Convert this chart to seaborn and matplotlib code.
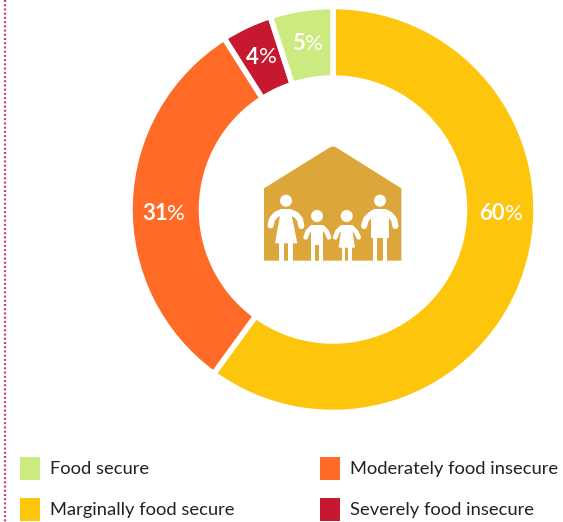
import matplotlib
matplotlib.use("Agg")
import matplotlib.pyplot as plt
from matplotlib.patches import Circle, Polygon, Rectangle
import seaborn as sns

categories = ["Marginally food secure", "Moderately food insecure",
              "Severely food insecure", "Food secure"]
shares = [60, 31, 4, 5]
share_colors = ["#FDC50C", "#FF6B27", "#C6192F", "#CBEB80"]
legend_order = ["Food secure", "Marginally food secure",
                "Moderately food insecure", "Severely food insecure"]

HOUSE = "#DDA63A"
WHITE = "#FFFFFF"

sns.set_theme(style="white")
plt.rcParams["font.family"] = ["Lato", "DejaVu Sans"]

W, H = 563, 522
fig = plt.figure(figsize=(W / 100, H / 100), dpi=100, facecolor="white")

# Ring, placed on the canvas in pixel terms
cx, cy, outer, inner = 333, 209.5, 203, 131.5
ring = fig.add_axes([(cx - outer) / W, (H - cy - outer) / H, 2 * outer / W, 2 * outer / H])
ring.pie(shares, colors=share_colors, startangle=90, counterclock=False, radius=1,
         wedgeprops=dict(width=(outer - inner) / outer, edgecolor="white", linewidth=4.0))
ring.set_xlim(-1, 1)
ring.set_ylim(-1, 1)
ring.axis("off")

# Overlay in pixel coordinates for annotations, icon and key
ax = fig.add_axes([0, 0, 1, 1], facecolor="none")
ax.set_xlim(0, W)
ax.set_ylim(H, 0)
ax.axis("off")

# Dotted rule on the left edge
ax.plot([5, 5], [0, H], color="#C9416F", lw=1.6, linestyle=(0, (0.9, 1.0)))

# Percentage labels: bold figure, lighter percent sign
label_anchor = {60: (504.5, 214), 31: (167.5, 214), 4: (258.5, 57), 5: (304.5, 43.5)}
for value in shares:
    x, y = label_anchor[value]
    ax.text(x, y, str(value), ha="right", va="center", color="white", fontsize=16, fontweight="bold")
    ax.text(x, y, "%", ha="left", va="center", color="white", fontsize=16)


def z(x, y):
    """Icon layout helper: 3x drawing grid to canvas pixels."""
    return 240 + x / 3, 130 + y / 3


def poly(points, color=WHITE):
    ax.add_patch(Polygon([z(*p) for p in points], closed=True, fc=color, ec="none", zorder=3))


def head(x, y, r):
    ax.add_patch(Circle(z(x, y), r / 3, fc=WHITE, ec="none", zorder=4))


def arms(points, lw=4.4):
    xs, ys = zip(*[z(*p) for p in points])
    ax.plot(xs, ys, color=WHITE, lw=lw, solid_capstyle="round", solid_joinstyle="round", zorder=4)


# House silhouette
poly([(72, 392), (72, 175), (270, 52), (278, 49), (288, 52), (484, 175), (484, 392)], HOUSE)

# Adult left
head(138, 212, 18)
arms([(92, 286), (96, 268), (108, 254), (125, 246), (150, 246), (168, 254), (180, 268), (184, 288)])
poly([(122, 245), (153, 245), (172, 340), (105, 340)])
poly([(118, 338), (133, 338), (133, 393), (118, 393)])
poly([(143, 338), (158, 338), (158, 393), (143, 393)])

# Child left
head(231, 258, 18)
arms([(197, 322), (203, 305), (216, 292), (248, 292), (260, 305), (267, 322)], lw=3.4)
poly([(214, 288), (250, 288), (250, 345), (214, 345)])
poly([(214, 343), (226, 343), (226, 393), (214, 393)])
poly([(238, 343), (250, 343), (250, 393), (238, 393)])

# Child right
head(320, 258, 18)
arms([(286, 322), (292, 305), (305, 292), (335, 292), (348, 305), (356, 322)], lw=3.4)
poly([(305, 288), (335, 288), (345, 353), (296, 353)])
poly([(306, 351), (316, 351), (316, 393), (306, 393)])
poly([(325, 351), (335, 351), (335, 393), (325, 393)])

# Adult right
head(420, 212, 18)
arms([(372, 288), (378, 268), (392, 254), (405, 246), (435, 246), (450, 254), (462, 268), (466, 288)])
poly([(393, 243), (447, 243), (447, 325), (393, 325)])
poly([(398, 323), (412, 323), (412, 393), (398, 393)])
poly([(428, 323), (442, 323), (442, 393), (428, 393)])

# Colour key
color_of = dict(zip(categories, share_colors))
key_pos = [(20, 457), (20, 498), (320, 457), (320, 498)]
for name, (x, y) in zip(legend_order, key_pos):
    ax.add_patch(Rectangle((x, y), 20, 23, fc=color_of[name], ec="none"))
    ax.text(x + 30, y + 12.2, name, ha="left", va="center", color="#222222", fontsize=13.25)

fig.savefig("out.png", dpi=100, facecolor="white")
